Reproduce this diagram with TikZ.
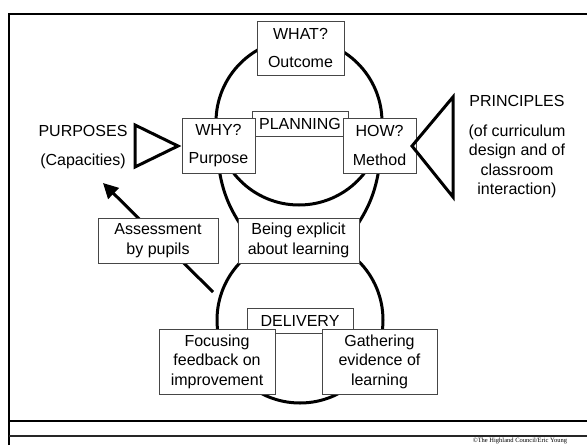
\documentclass[tikz,border=0pt]{standalone}
\usepackage{fontspec}
\setmainfont{Liberation Sans}
\newfontfamily\footfont{Liberation Serif}
\usetikzlibrary{arrows.meta}
\definecolor{boxline}{RGB}{70, 70, 70}

\begin{document}
\begin{tikzpicture}[x=1pt, y=-1pt,
                    font=\fontsize{16}{19.5}\selectfont,
                    box/.style={draw=boxline, fill=white, line width=0.8pt, align=center, inner sep=0pt},
                    loop/.style={black, line width=3pt},
                    wedge/.style={black, line width=3pt, line join=miter}]
                    \useasboundingbox (0,0) rectangle (587,445);

                    % frame
                    \draw[line width=1.5pt] (9,445) -- (9,14) -- (587,14);
                    \draw[line width=1.2pt] (9,421) -- (587,421);
                    \draw[line width=1.2pt, black!85] (9,436) -- (587,436);

                    % planning and delivery loops
                    \draw[loop] (299,122) circle (83);
                    \draw[loop] (300,320) circle (83);
                    \draw[loop] (216,122) .. controls (216,195) and (232,210) .. (250,240);
                    \draw[loop] (382,122) .. controls (382,195) and (366,210) .. (348,240);

                    % assessment arrow
                    \coordinate (astart) at (213,292);
                    \coordinate (atip) at (103,183);
                    \draw[line width=3pt, -{Triangle[length=15pt, width=15pt]}] (astart) -- (atip);

                    \node[box, minimum width=87, minimum height=54] (what) at (300.5,48) {WHAT?\\[9pt]Outcome};
                    \node[box, minimum width=96, minimum height=25] (planning) at (300,123.5) {PLANNING};
                    \node[box, minimum width=73, minimum height=55] (why) at (218.5,145.5) {WHY?\\[9pt]Purpose};
                    \node[box, minimum width=73, minimum height=55] (how) at (379.5,145.5) {HOW?\\[9pt]Method};

                    \node[box, minimum width=120, minimum height=45] (assess) at (158,240.5) {Assessment\\by pupils};
                    \node[box, minimum width=121, minimum height=45] (explicit) at (298.5,240.5) {Being explicit\\about learning};

                    \node[box, minimum width=106, minimum height=25] (delivery) at (300,320.5) {DELIVERY};
                    \node[box, minimum width=116, minimum height=65] (focus) at (217,361.5) {Focusing\\feedback on\\improvement};
                    \node[box, minimum width=115, minimum height=65] (gather) at (379.5,361.5) {Gathering\\evidence of\\learning};

                    % side labels and wedges
                    \node[align=center] (purposes) at (83,147) {PURPOSES\\[10pt](Capacities)};
                    \node[align=center] (principles) at (517,147) {PRINCIPLES\\[10pt](of curriculum\\design and of\\classroom\\interaction)};
                    \draw[wedge] (135,125) -- (178,146) -- (135,167) -- cycle;
                    \draw[wedge] (453,97) -- (412,146) -- (453,197) -- cycle;

                    \node[font=\footfont\fontsize{6.5}{7}\selectfont] (credit) at (520,440.5) {©The Highland Council/Eric Young};
                \end{tikzpicture}
\end{document}
